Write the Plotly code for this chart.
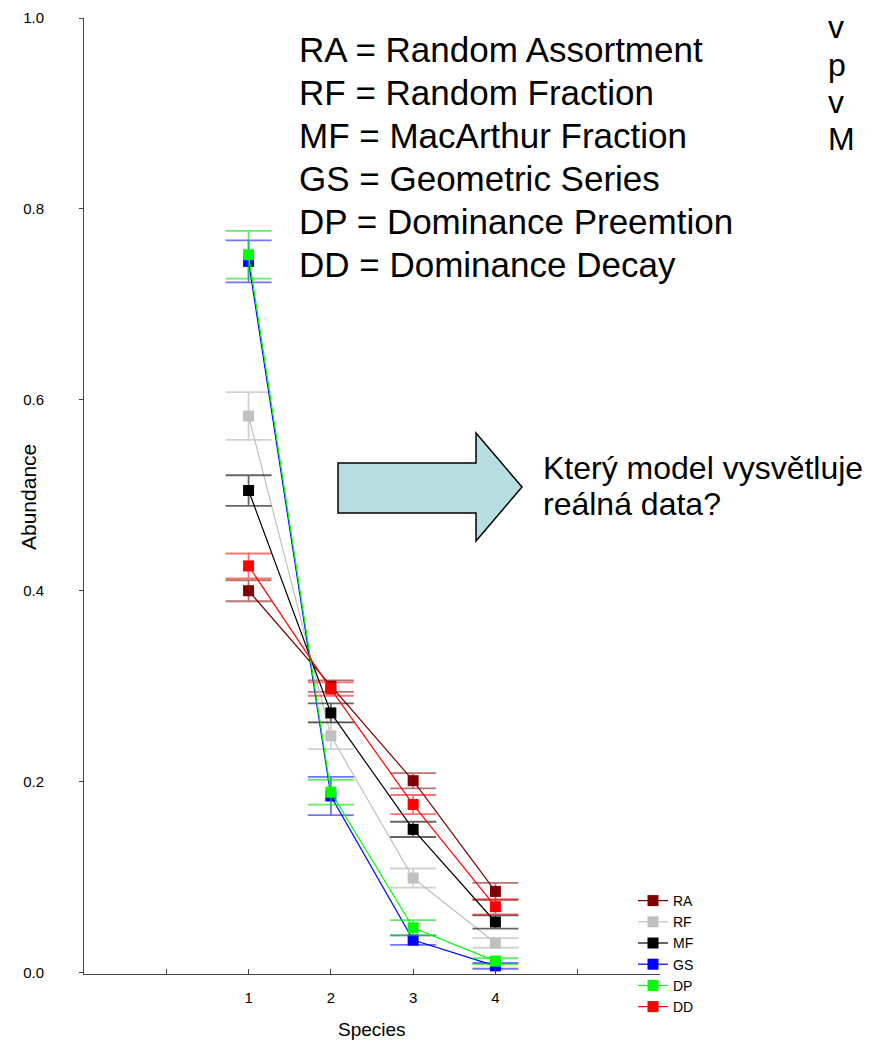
import plotly.graph_objects as go

# data
species = [1, 2, 3, 4]
models = ["RA", "RF", "MF", "GS", "DP", "DD"]

ra = [0.400, 0.300, 0.201, 0.085]
rf = [0.583, 0.248, 0.099, 0.031]
mf = [0.505, 0.272, 0.150, 0.053]
gs = [0.745, 0.185, 0.034, 0.007]
dp = [0.752, 0.189, 0.047, 0.012]
dd = [0.426, 0.297, 0.176, 0.069]

ra_err = [0.011, 0.006, 0.008, 0.009]
rf_err = [0.025, 0.014, 0.010, 0.005]
mf_err = [0.016, 0.010, 0.008, 0.007]
gs_err = [0.022, 0.020, 0.005, 0.003]
dp_err = [0.025, 0.013, 0.008, 0.003]
dd_err = [0.013, 0.007, 0.010, 0.008]

legend_lines = ["RA = Random Assortment", "RF = Random Fraction", "MF = MacArthur Fraction",
                "GS = Geometric Series", "DP = Dominance Preemtion", "DD = Dominance Decay"]
question = ["Který model vysvětluje", "reálná data?"]
cut_text = ["v", "p", "v", "M"]

# page has an 8px body margin, so the figure is drawn 8px smaller
OFF = 8
W, H = 875 - OFF, 1042 - OFF
L, R, T, B = 84 - OFF, 215, 18 - OFF, 68
FONT = "Liberation Sans, Arial, sans-serif"

def px(x):  # page pixel -> paper (decorations only)
    return (x - OFF - L) / (W - L - R)

def py(y):
    return (H - B - (y - OFF)) / (H - T - B)

series = [
    (ra, ra_err, "#800000", "rgba(128,0,0,0.55)"),
    (rf, rf_err, "#c0c0c0", "rgba(190,190,190,0.7)"),
    (mf, mf_err, "#000000", "rgba(0,0,0,0.6)"),
    (gs, gs_err, "#0000ff", "rgba(0,0,255,0.55)"),
    (dp, dp_err, "#00ff00", "rgba(0,220,0,0.6)"),
    (dd, dd_err, "#ff0000", "rgba(255,0,0,0.55)"),
]

fig = go.Figure()
for name, (vals, err, col, ecol) in zip(models, series):
    fig.add_trace(go.Scatter(
        x=species, y=vals, name=name, mode="lines+markers",
        line=dict(color=col, width=1.2),
        marker=dict(symbol="square", size=11, color=col),
        error_y=dict(type="data", array=err, visible=True, color=ecol, thickness=1.8, width=23),
    ))

ann = []
for i, t in enumerate(legend_lines):
    ann.append(dict(x=px(297), y=py(50 + i * 42.8), text=t, xanchor="left", yanchor="middle",
                    font=dict(size=35, color="black", family=FONT)))
for i, t in enumerate(question):
    ann.append(dict(x=px(541), y=py(468 + i * 36), text=t, xanchor="left", yanchor="middle",
                    font=dict(size=32, color="black", family=FONT)))
for i, t in enumerate(cut_text):
    ann.append(dict(x=px(826), y=py(27 + i * 37.5), text=t, xanchor="left", yanchor="middle",
                    font=dict(size=32, color="black", family=FONT)))
ann.append(dict(x=px(28), y=py(497), text="Abundance", textangle=-90, xanchor="center", yanchor="middle",
                font=dict(size=21, color="black", family=FONT)))
ann.append(dict(x=px(372), y=py(1029), text="Species", xanchor="center", yanchor="middle",
                font=dict(size=19, color="black", family=FONT)))
for a in ann:
    a.update(xref="paper", yref="paper", showarrow=False)

arrow = [(338, 463), (476, 463), (476, 433), (522, 487), (476, 541), (476, 513), (338, 513)]
path = "M " + " L ".join(f"{px(x):.4f},{py(y):.4f}" for x, y in arrow) + " Z"

fig.update_layout(
    width=W, height=H,
    margin=dict(l=L, r=R, t=T, b=B, autoexpand=False),
    plot_bgcolor="white", paper_bgcolor="white",
    font=dict(family=FONT, color="black"),
    annotations=ann,
    shapes=[dict(type="path", path=path, xref="paper", yref="paper",
                 fillcolor="#b7dfe2", line=dict(color="black", width=1.5))],
    xaxis=dict(range=[-1, 6], tickvals=[0, 1, 2, 3, 4, 5, 6], ticktext=["", "1", "2", "3", "4", "", ""],
               showgrid=False, zeroline=False, showline=True, linecolor="#444", linewidth=1,
               ticks="inside", ticklen=5, tickcolor="#444", tickfont=dict(size=15),
               ticklabelstandoff=10, automargin=False),
    yaxis=dict(range=[-0.0015, 1.0], tickvals=[0, 0.2, 0.4, 0.6, 0.8, 1.0], tickformat=".1f",
               showgrid=False, zeroline=False, showline=True, linecolor="#444", linewidth=1,
               ticks="outside", ticklen=4, tickcolor="#444", tickfont=dict(size=15),
               ticklabelstandoff=32, automargin=False),
    legend=dict(x=px(633), y=py(885), xanchor="left", yanchor="top", xref="paper", yref="paper",
                font=dict(size=14), itemwidth=30, bgcolor="rgba(0,0,0,0)", tracegroupgap=0),
)

fig.write_html("out.html")
